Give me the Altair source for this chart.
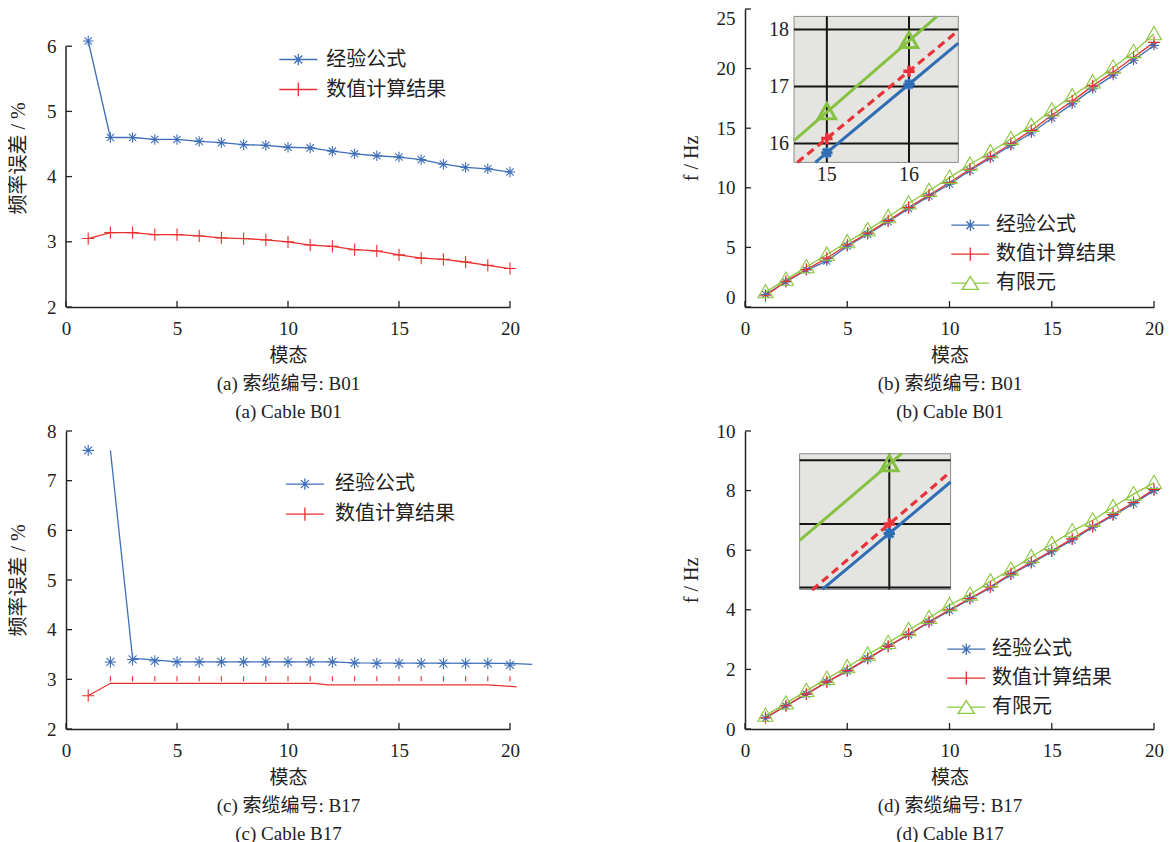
import altair as alt
import pandas as pd

FONT = "Liberation Serif, Noto Sans CJK SC"
TXT = "#222222"
BLUE = "#3f6fb8"
RED = "#e8312f"
GREEN = "#8cc63f"
IN_BLUE = "#2f6db5"
IN_RED = "#e8323a"
IN_GREEN = "#86c142"
INSET_BG = "#e4e4e1"

# ---------------- data ----------------
modes = list(range(1, 21))
x_ticks = [0, 5, 10, 15, 20]
names = ["经验公式", "数值计算结果", "有限元"]

# (a) frequency error, cable B01
a_emp = [6.08, 4.60, 4.60, 4.57, 4.57, 4.54, 4.52, 4.49, 4.48, 4.45,
         4.44, 4.39, 4.35, 4.32, 4.30, 4.26, 4.19, 4.14, 4.12, 4.07]
a_num = [3.05, 3.14, 3.14, 3.11, 3.11, 3.09, 3.06, 3.05, 3.03, 3.00,
         2.95, 2.93, 2.88, 2.86, 2.80, 2.75, 2.73, 2.69, 2.64, 2.59]
a_yticks = [2, 3, 4, 5, 6]

# (c) frequency error, cable B17
c_emp_pts = [7.61, 3.35, 3.40, 3.37, 3.35, 3.35, 3.35, 3.35, 3.35, 3.35,
             3.35, 3.35, 3.33, 3.32, 3.32, 3.32, 3.32, 3.32, 3.32, 3.29]
c_emp_line_x = [2, 3, 4, 5, 12, 13, 20, 21]
c_emp_line_y = [7.61, 3.42, 3.39, 3.35, 3.35, 3.33, 3.32, 3.30]
c_num_line_x = [1, 2, 11.2, 11.8, 19, 20.3]
c_num_line_y = [2.67, 2.92, 2.92, 2.89, 2.89, 2.85]
c_num_pt_x = [1]
c_num_pt_y = [2.67]
c_num_tick_x = modes[1:]
c_num_tick_y = [3.01] * 19
c_yticks = [2, 3, 4, 5, 6, 7, 8]

# (b) frequencies, cable B01
b_emp = [1.05, 2.10, 3.10, 3.85, 5.10, 6.10, 7.15, 8.25, 9.30, 10.30,
         11.45, 12.50, 13.55, 14.60, 15.84, 17.04, 18.30, 19.45, 20.70, 21.95]
b_num = [0.95, 2.15, 3.15, 4.10, 5.20, 6.20, 7.25, 8.35, 9.40, 10.45,
         11.55, 12.60, 13.70, 14.80, 16.09, 17.27, 18.55, 19.70, 20.95, 22.20]
b_fem = [1.25, 2.30, 3.35, 4.40, 5.45, 6.45, 7.55, 8.70, 9.75, 10.85,
         11.95, 13.00, 14.10, 15.20, 16.50, 17.70, 18.85, 20.10, 21.40, 22.90]
b_yticks = [0, 5, 10, 15, 20, 25]
# inset of (b)
bi_xdom = [14.6, 16.6]
bi_ydom = [15.67, 18.23]
bi_xgrid = [15, 16]
bi_ygrid = [16, 17, 18]
bi_mode = [15, 16]
bi_emp = [15.84, 17.04]
bi_num = [16.09, 17.27]
bi_fem = [16.55, 17.80]
bi_emp_lx = [14.86, 15, 16, 16.6]
bi_emp_ly = [15.67, 15.84, 17.04, 17.76]
bi_num_lx = [14.64, 15, 16, 16.6]
bi_num_ly = [15.67, 16.09, 17.27, 17.98]
bi_fem_lx = [14.6, 15, 16, 16.34]
bi_fem_ly = [16.05, 16.55, 17.80, 18.23]

# (d) frequencies, cable B17
d_emp = [0.36, 0.77, 1.16, 1.57, 1.94, 2.35, 2.77, 3.16, 3.58, 3.97,
         4.36, 4.74, 5.18, 5.56, 5.95, 6.34, 6.77, 7.16, 7.56, 8.00]
d_num = [0.38, 0.78, 1.18, 1.58, 1.96, 2.37, 2.78, 3.18, 3.60, 4.00,
         4.38, 4.77, 5.21, 5.59, 5.98, 6.38, 6.80, 7.20, 7.60, 8.04]
d_fem = [0.45, 0.86, 1.28, 1.69, 2.08, 2.50, 2.89, 3.32, 3.73, 4.16,
         4.51, 4.96, 5.35, 5.77, 6.21, 6.64, 7.00, 7.45, 7.88, 8.26]
d_yticks = [0, 2, 4, 6, 8, 10]
# inset of (d)
di_xdom = [6.70, 7.205]
di_ydom = [2.697, 2.9105]
di_xgrid = [7]
di_ygrid = [2.7, 2.8, 2.9]
di_mode = [7]
di_emp = [2.785]
di_num = [2.80]
di_fem = [2.894]
di_emp_lx = [6.776, 7, 7.205]
di_emp_ly = [2.697, 2.785, 2.866]
di_num_lx = [6.742, 7, 7.205]
di_num_ly = [2.696, 2.80, 2.882]
di_fem_lx = [6.70, 7, 7.042]
di_fem_ly = [2.774, 2.894, 2.911]

# ---------------- marker shapes ----------------
AST = "M-1,0H1M0,-1V1M-0.7,-0.7L0.7,0.7M-0.7,0.7L0.7,-0.7"
PLUS = "M-1,0H1M0,-1V1"
TRI = "M0,-1L1,0.75L-1,0.75Z"
VTICK = "M0,-1V1"
L_AST = "M-2,0H2M0,-0.6V0.6M-0.42,-0.42L0.42,0.42M-0.42,0.42L0.42,-0.42"
L_PLUS = "M-2,0H2M0,-0.7V0.7"
L_TRI = "M-2,0H-0.45M0.45,0H2M0,-0.7L0.85,0.65L-0.85,0.65Z"

PW = [444, 409]
PH = 298


def sc(dom, rng=None):
    if rng is None:
        return alt.Scale(domain=dom, nice=False, zero=False)
    return alt.Scale(domain=dom, range=rng, nice=False, zero=False)


def df_xy(xs, ys):
    return pd.DataFrame({"x": xs, "y": ys})


def enc(xsc, ysc):
    return dict(x=alt.X("x:Q", scale=xsc, axis=None), y=alt.Y("y:Q", scale=ysc, axis=None))


def line(xs, ys, color, xsc, ysc, width=1.3, dash=None):
    kw = dict(color=color, strokeWidth=width, clip=False)
    if dash is not None:
        kw["strokeDash"] = dash
    return alt.Chart(df_xy(xs, ys)).mark_line(**kw).encode(**enc(xsc, ysc))


def pts(xs, ys, color, shape, size, xsc, ysc, width=1.1):
    return alt.Chart(df_xy(xs, ys)).mark_point(
        shape=shape, size=size, filled=False, strokeWidth=width, color=color,
        opacity=1, clip=False).encode(**enc(xsc, ysc))


def axes_layer(xsc, ysc, yticks, ytitle, xtitle, ydomain_line=True, ytitle_pad=18, yflush=False):
    xaxis = alt.Axis(values=x_ticks, format="d", ticks=False, grid=False,
                     domainColor=TXT, domainWidth=1.5, labelFont=FONT, labelFontSize=19,
                     labelColor=TXT, labelPadding=12.5, labelFlush=False,
                     title=xtitle, titleFont=FONT, titleFontSize=19, titleFontWeight="normal",
                     titleColor=TXT, titlePadding=8, titleLineHeight=28)
    yaxis = alt.Axis(values=yticks, format="d", ticks=False, grid=False,
                     domain=ydomain_line, domainColor=TXT, domainWidth=1.5,
                     labelFont=FONT, labelFontSize=19, labelColor=TXT, labelPadding=10,
                     labelFlush=yflush, title=ytitle, titleFont=FONT, titleFontSize=20,
                     titleFontWeight="normal", titleColor=TXT, titlePadding=ytitle_pad)
    xt = alt.Chart(df_xy(x_ticks, [ysc.domain[0]] * len(x_ticks))).mark_tick(
        orient="vertical", size=6, thickness=1.3, yOffset=-3, color=TXT, opacity=1, clip=False
    ).encode(x=alt.X("x:Q", scale=xsc, axis=xaxis), y=alt.Y("y:Q", scale=ysc, axis=yaxis))
    yt = alt.Chart(df_xy([0] * len(yticks), yticks)).mark_tick(
        orient="horizontal", size=6, thickness=1.3, xOffset=3, color=TXT, opacity=1, clip=False
    ).encode(**enc(xsc, ysc))
    return [xt, yt]


def legend_layer(field, n, paths, colors, lx, ly, loff, rowpad):
    dom = names[:n]
    lg = alt.Legend(orient="none", legendX=lx, legendY=ly, title=None, symbolSize=361,
                    symbolStrokeWidth=1.3, labelFont=FONT, labelFontSize=20, labelColor=TXT,
                    labelOffset=loff, rowPadding=rowpad, padding=0)
    return alt.Chart(pd.DataFrame({field: dom})).mark_point(
        filled=False, opacity=1, strokeWidth=1.3
    ).encode(
        color=alt.Color(f"{field}:N", scale=alt.Scale(domain=dom, range=colors[:n]), legend=lg),
        shape=alt.Shape(f"{field}:N", scale=alt.Scale(domain=dom, range=paths[:n]), legend=lg),
    ).transform_filter("false")


def inset(xdom, ydom, xr, yr, xgrid, ygrid, mode, emp, num, fem, lines, labels):
    xsc = sc(xdom, xr)
    ysc = sc(ydom, yr)
    box = alt.Chart(pd.DataFrame({"x": [xdom[0]], "x2": [xdom[1]], "y": [ydom[0]], "y2": [ydom[1]]})
                    ).mark_rect(fill=INSET_BG, stroke="#8a8a8a", strokeWidth=1, clip=False).encode(
        x=alt.X("x:Q", scale=xsc, axis=None), x2="x2:Q",
        y=alt.Y("y:Q", scale=ysc, axis=None), y2="y2:Q")
    vg = alt.Chart(pd.DataFrame({"x": xgrid, "y": [ydom[0]] * len(xgrid), "y2": [ydom[1]] * len(xgrid)})
                   ).mark_rule(color="#151515", strokeWidth=2, clip=False).encode(
        x=alt.X("x:Q", scale=xsc, axis=None), y=alt.Y("y:Q", scale=ysc, axis=None), y2="y2:Q")
    hg = alt.Chart(pd.DataFrame({"y": ygrid, "x": [xdom[0]] * len(ygrid), "x2": [xdom[1]] * len(ygrid)})
                   ).mark_rule(color="#151515", strokeWidth=2, clip=False).encode(
        x=alt.X("x:Q", scale=xsc, axis=None), x2="x2:Q", y=alt.Y("y:Q", scale=ysc, axis=None))
    (elx, ely), (nlx, nly), (flx, fly) = lines
    layers = [box, vg, hg,
              line(flx, fly, IN_GREEN, xsc, ysc, width=3),
              line(nlx, nly, IN_RED, xsc, ysc, width=3.2, dash=[8, 5]),
              line(elx, ely, IN_BLUE, xsc, ysc, width=3),
              pts(mode, fem, IN_GREEN, TRI, 300, xsc, ysc, width=3),
              pts(mode, num, IN_RED, PLUS, 130, xsc, ysc, width=3.5),
              pts(mode, emp, IN_BLUE, AST, 130, xsc, ysc, width=3)]
    if labels:
        left = alt.Chart(pd.DataFrame({"x": [xdom[0]] * len(ygrid), "y": ygrid, "t": [str(v) for v in ygrid]})
                         ).mark_text(font=FONT, fontSize=20, color=TXT, align="right", baseline="middle",
                                     dx=-5, clip=False).encode(
            x=alt.X("x:Q", scale=xsc, axis=None), y=alt.Y("y:Q", scale=ysc, axis=None), text="t:N")
        bottom = alt.Chart(pd.DataFrame({"x": xgrid, "y": [ydom[0]] * len(xgrid), "t": [str(v) for v in xgrid]})
                           ).mark_text(font=FONT, fontSize=20, color=TXT, align="center", baseline="top",
                                       dy=3, clip=False).encode(
            x=alt.X("x:Q", scale=xsc, axis=None), y=alt.Y("y:Q", scale=ysc, axis=None), text="t:N")
        layers += [left, bottom]
    return layers


# ---------------- panel (a) ----------------
xa = sc([0, 20])
ya = sc([2, 2 + PH / 65.2])
pa = axes_layer(xa, ya, a_yticks, "频率误差 / %",
                ["模态", "(a)  索缆编号: B01", "(a)  Cable B01"], ydomain_line=False)
pa += [
    alt.Chart(pd.DataFrame({"x": [0], "y": [a_yticks[0]], "y2": [a_yticks[-1]]})).mark_rule(
        color=TXT, strokeWidth=1.5).encode(x=alt.X("x:Q", scale=xa, axis=None),
                                           y=alt.Y("y:Q", scale=ya, axis=None), y2="y2:Q"),
    line(modes, a_emp, BLUE, xa, ya), line(modes, a_num, RED, xa, ya),
    pts(modes, a_emp, BLUE, AST, 110, xa, ya), pts(modes, a_num, RED, PLUS, 150, xa, ya),
    legend_layer("sa", 2, [L_AST, L_PLUS], [BLUE, RED], 221.8, 40, 17.5, 9),
]
chart_a = alt.layer(*pa).resolve_scale(x="independent", y="independent").properties(width=PW[0], height=PH)

# ---------------- panel (c) ----------------
xc = sc([0, 20])
yc = sc([2, 8])
pc = axes_layer(xc, yc, c_yticks, "频率误差 / %",
                ["模态", "(c)  索缆编号: B17", "(c)  Cable B17"])
pc += [
    line(c_emp_line_x, c_emp_line_y, BLUE, xc, yc), line(c_num_line_x, c_num_line_y, RED, xc, yc),
    pts(modes, c_emp_pts, BLUE, AST, 130, xc, yc),
    pts(c_num_pt_x, c_num_pt_y, RED, PLUS, 150, xc, yc),
    pts(c_num_tick_x, c_num_tick_y, RED, VTICK, 25, xc, yc),
    legend_layer("sc", 2, [L_AST, L_PLUS], [BLUE, RED], 228.4, 42.6, 19.5, 9),
]
chart_c = alt.layer(*pc).resolve_scale(x="independent", y="independent").properties(width=PW[0], height=PH)

# ---------------- panel (b) ----------------
xb = sc([0, 20])
yb = sc([0, 25])
pb = axes_layer(xb, yb, b_yticks, "f / Hz",
                ["模态", "(b)  索缆编号: B01", "(b)  Cable B01"], ytitle_pad=15, yflush=True)
pb += [
    line(modes, b_emp, BLUE, xb, yb), line(modes, b_num, RED, xb, yb), line(modes, b_fem, GREEN, xb, yb),
    pts(modes, b_emp, BLUE, AST, 100, xb, yb), pts(modes, b_num, RED, PLUS, 150, xb, yb),
    pts(modes, b_fem, GREEN, TRI, 230, xb, yb),
    legend_layer("sb", 3, [L_AST, L_PLUS, L_TRI], [BLUE, RED, GREEN], 214.8, 205.7, 15.2, 8),
]
pb += inset(bi_xdom, bi_ydom, [49, 213.3], [153.4, 7.4], bi_xgrid, bi_ygrid, bi_mode,
            bi_emp, bi_num, bi_fem,
            [(bi_emp_lx, bi_emp_ly), (bi_num_lx, bi_num_ly), (bi_fem_lx, bi_fem_ly)], True)
chart_b = alt.layer(*pb).resolve_scale(x="independent", y="independent").properties(width=PW[1], height=PH)

# ---------------- panel (d) ----------------
xd = sc([0, 20])
yd = sc([0, 10])
pd_ = axes_layer(xd, yd, d_yticks, "f / Hz",
                 ["模态", "(d)  索缆编号: B17", "(d)  Cable B17"], ytitle_pad=15)
pd_ += [
    line(modes, d_emp, BLUE, xd, yd), line(modes, d_num, RED, xd, yd), line(modes, d_fem, GREEN, xd, yd),
    pts(modes, d_emp, BLUE, AST, 100, xd, yd), pts(modes, d_num, RED, PLUS, 150, xd, yd),
    pts(modes, d_fem, GREEN, TRI, 230, xd, yd),
    legend_layer("sd", 3, [L_AST, L_PLUS, L_TRI], [BLUE, RED, GREEN], 210.8, 207.7, 15.2, 8),
]
pd_ += inset(di_xdom, di_ydom, [54.6, 205.6], [158.4, 22.7], di_xgrid, di_ygrid, di_mode,
             di_emp, di_num, di_fem,
             [(di_emp_lx, di_emp_ly), (di_num_lx, di_num_ly), (di_fem_lx, di_fem_ly)], False)
chart_d = alt.layer(*pd_).resolve_scale(x="independent", y="independent").properties(width=PW[1], height=PH)

row1 = alt.hconcat(chart_a, chart_b, spacing=161).resolve_scale(color="independent", shape="independent")
row2 = alt.hconcat(chart_c, chart_d, spacing=146).resolve_scale(color="independent", shape="independent")
chart = alt.vconcat(row1, row2, spacing=0).resolve_scale(
    color="independent", shape="independent"
).properties(padding={"top": 0, "left": 0, "right": 0, "bottom": 0},
             background="white").configure_view(stroke=None)

chart.save("out.html", embed_options={"renderer": "svg", "actions": False})
